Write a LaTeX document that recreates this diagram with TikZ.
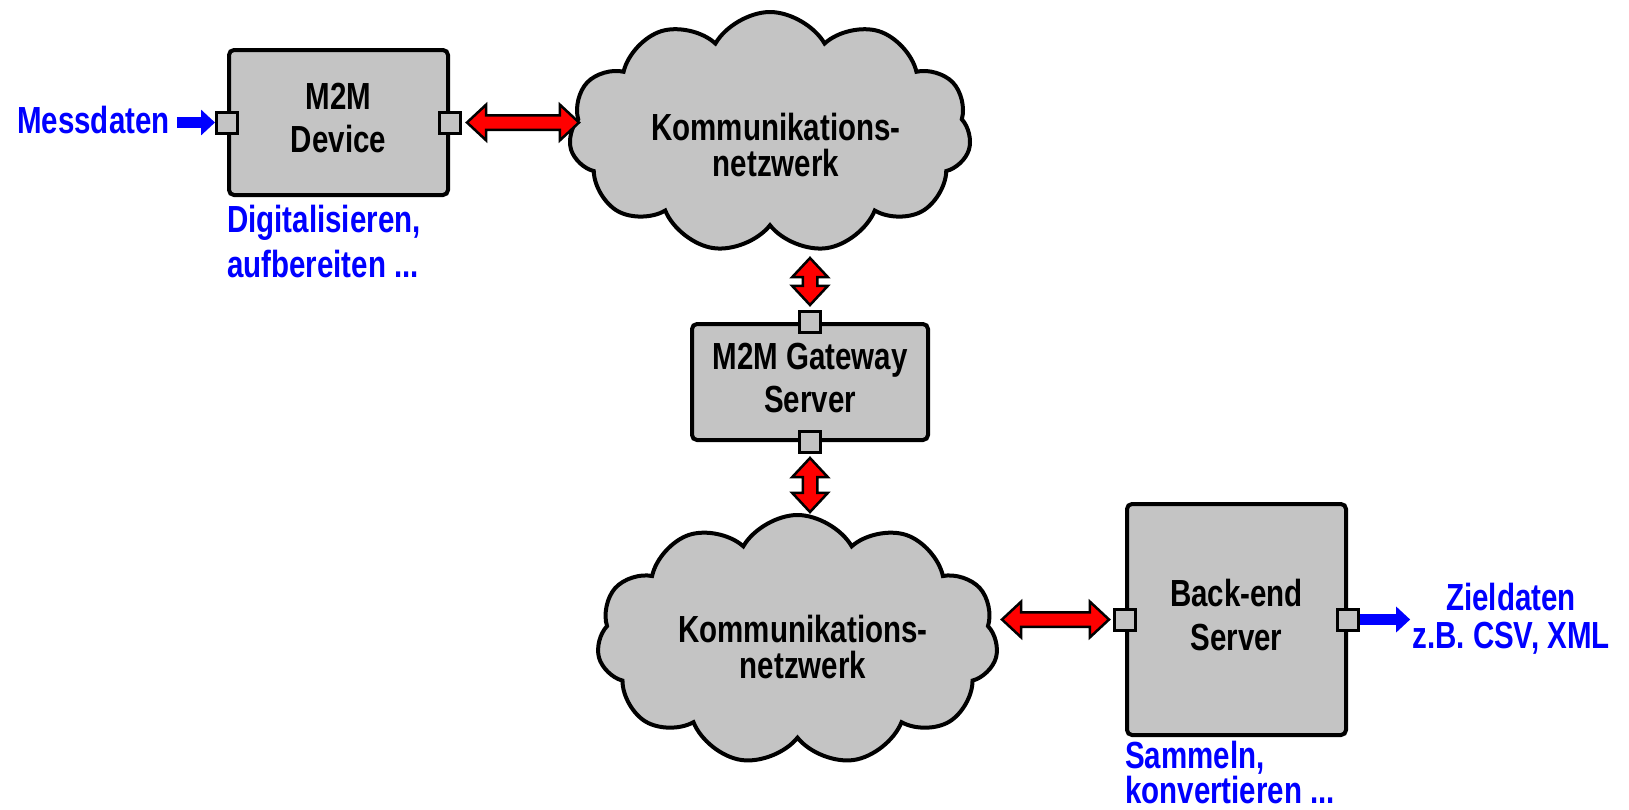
\documentclass[tikz,border=0pt]{standalone}
\usepackage{fontspec}
\setmainfont{Liberation Sans}
\usepackage{graphicx}
\usetikzlibrary{shapes.symbols,shapes.arrows,arrows.meta,calc}
\definecolor{m2mcolor0000}{RGB}{196,196,196}
\definecolor{m2mcolor0001}{RGB}{0,0,255}
\definecolor{m2mcolor0002}{RGB}{255,0,0}
\newcommand\tallbox[3]{\fontsize{29.5}{#1}\selectfont\scalebox{1}[1.28]{\begin{tabular}[t]{@{}#2@{}}#3\end{tabular}}}

\begin{document}
\begin{tikzpicture}[x=1pt,y=-1pt
    ,mstyle1/.style={draw=black,fill=m2mcolor0000,line width=4pt,rounded corners=5pt,inner sep=0pt,font=\bfseries}
    ,mstyle2/.style={draw=black,fill=m2mcolor0000,line width=3pt,minimum size=21pt,inner sep=0pt}
    ,mstyle3/.style={cloud,cloud puffs=11,cloud puff arc=120,cloud ignores aspect,draw=black,fill=m2mcolor0000,line width=4pt,inner sep=0pt}
    ,mstyle4/.style={double arrow,double arrow head extend=10.5pt,double arrow tip angle=86,inner xsep=0pt,inner ysep=6pt,draw=black,fill=m2mcolor0002,line width=2.5pt}
    ,mstyle5/.style={m2mcolor0001,line width=11pt,-{Triangle[length=14pt,width=25pt]}}
    ,mstyle6/.style={inner sep=0pt,font=\bfseries}
    ,mstyle7/.style={inner sep=0pt,font=\bfseries,text=m2mcolor0001}
  ]
  \useasboundingbox[fill=white] (0,0) rectangle (1629,809);
  \node[mstyle3,minimum width=402pt,minimum height=241pt] (netA) at (770,132.5) {};
  \node[mstyle3,minimum width=401pt,minimum height=250pt] (netB) at (797.5,640) {};
  \node[mstyle6,anchor=base] (netA-text) at (776,140) {\tallbox{24.7}{c}{Kommunikations-\\netzwerk}};
  \node[mstyle6,anchor=base] (netB-text) at (803,642) {\tallbox{24.7}{c}{Kommunikations-\\netzwerk}};
  \node[mstyle1,minimum width=219pt,minimum height=145pt] (dev) at (338.5,122.5) {\tallbox{33.6}{c}{M2M\\Device}};
  \node[mstyle1,minimum width=236pt,minimum height=116pt] (gw) at (810,382) {\tallbox{33.6}{c}{M2M Gateway\\Server}};
  \node[mstyle1,minimum width=219pt,minimum height=231pt] (be) at (1236.5,619.5) {\tallbox{34.4}{c}{Back-end\\Server}};
  \node[mstyle2] (dev-in) at (dev.west) {};
  \node[mstyle2] (dev-out) at (dev.east) {};
  \node[mstyle2] (gw-in) at (gw.north) {};
  \node[mstyle2] (gw-out) at (gw.south) {};
  \node[mstyle2] (be-in) at (be.west) {};
  \node[mstyle2] (be-out) at (be.east) {};
  \node[mstyle4,minimum height=112pt] (link1) at ($(dev-out.east)+(61,0)$) {};
  \node[mstyle4,minimum height=47pt,rotate=90] (link2) at ($(gw-in.north)+(0,-28.5)$) {};
  \node[mstyle4,minimum height=54pt,rotate=90] (link3) at ($(gw-out.south)+(0,31)$) {};
  \node[mstyle4,minimum height=107pt] (link4) at ($(be-in.west)+(-57.5,0)$) {};
  \node[mstyle7,anchor=base west] (mess) at (17,133) {\tallbox{34}{l}{Messdaten}};
  \node[mstyle7,anchor=base west] (dev-note) at (227,232) {\tallbox{35.2}{l}{Digitalisieren,\\aufbereiten ...}};
  \node[mstyle7,anchor=base west] (be-note) at (1125,768) {\tallbox{22}{l}{Sammeln,\\konvertieren ...}};
  \node[mstyle7,anchor=base] (ziel) at (1511,610) {\tallbox{30}{c}{Zieldaten\\z.B. CSV, XML}};
  \draw[mstyle5] ($(mess.east |- dev-in.west)+(7,0)$) -- (dev-in.west);
  \draw[mstyle5] (be-out.east) -- ($(ziel.west |- be-out.east)+(-2,0)$);
\end{tikzpicture}
\end{document}
